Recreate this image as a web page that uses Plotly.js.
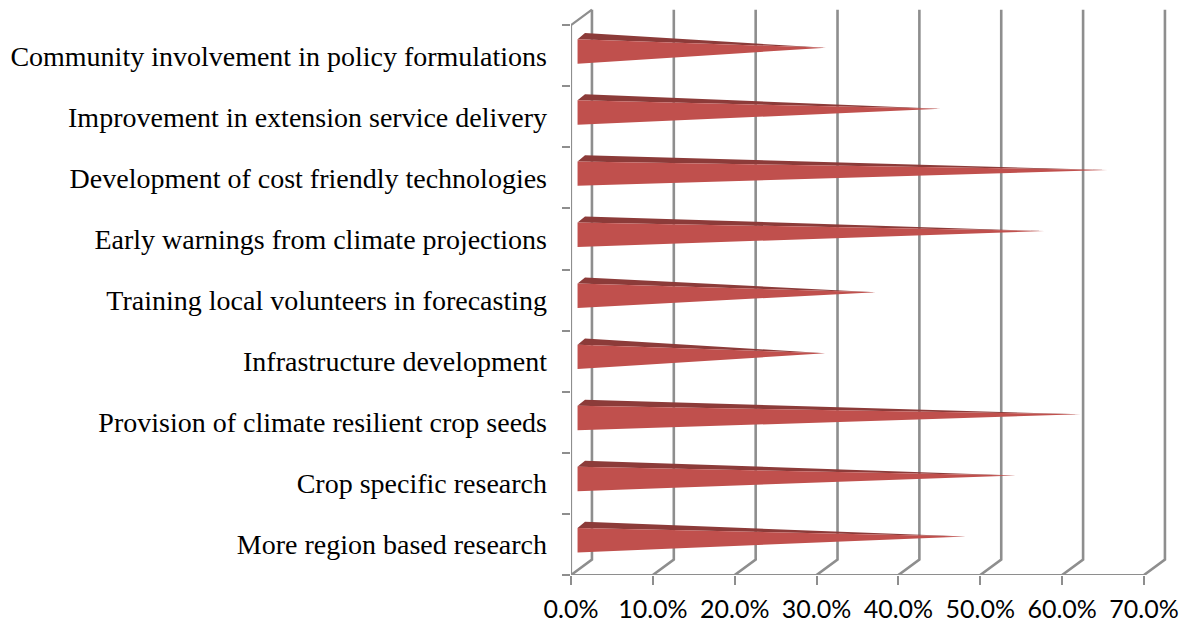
<!DOCTYPE html>
<html><head><meta charset="utf-8">
<script src="https://cdn.plot.ly/plotly-3.0.1.min.js"></script>
<style>html,body{margin:0;padding:0;background:#fff}</style></head>
<body><div id="chart" style="width:1187px;height:624px"></div>
<script>
// Bottom-to-top, as on the category axis
const categories = [
  "More region based research",
  "Crop specific research",
  "Provision of climate resilient crop seeds",
  "Infrastructure development",
  "Training local volunteers in forecasting",
  "Early warnings from climate projections",
  "Development of cost friendly technologies",
  "Improvement in extension service delivery",
  "Community involvement in policy formulations"
];
const values = [46.7, 52.8, 60.7, 29.5, 35.7, 56.3, 64.0, 43.6, 29.6];
const valueTicks = [0, 10, 20, 30, 40, 50, 60, 70];
const valueLabels = ["0.0%", "10.0%", "20.0%", "30.0%", "40.0%", "50.0%", "60.0%", "70.0%"];

const depthX = 2.56, depthY = 0.254;   // oblique projection of the chart depth, axis units
const gridColor = "#8e8e8e";
const front = {x: [], y: []}, top_ = {x: [], y: []};
values.forEach((v, i) => {
  const c = i + 0.5, tipX = v + 1.55, tipY = c + 0.13;
  front.x.push(0.8, 0.8, tipX, null);
  front.y.push(c - 0.13, c + 0.27, tipY, null);
  top_.x.push(0.8, 1.71, tipX, null);
  top_.y.push(c + 0.27, c + 0.37, tipY, null);
});
const n = categories.length;
const gx = [], gy = [];
valueTicks.forEach(t => {
  gx.push(t, t + depthX, t + depthX, null);
  gy.push(0, depthY, n + depthY, null);
});
const line = (x, y, w) => ({type: "scatter", mode: "lines", x, y, hoverinfo: "skip", showlegend: false,
  cliponaxis: false, line: {color: gridColor, width: w}});
const fill = (d, color) => ({type: "scatter", mode: "lines", x: d.x, y: d.y, fill: "toself", fillcolor: color,
  hoverinfo: "skip", showlegend: false, line: {width: 0, color: color}});
const traces = [
  line(gx, gy, 2.6),
  line([0, 0, depthX], [0, n, n + depthY], 2.2),
  line([0, 70], [0, 0], 2.2),
  fill(top_, "#8c3b39"),
  fill(front, "#c0504d")
];
const layout = {
  width: 1187, height: 624,
  margin: {l: 571, r: 15.7, t: 5.3, b: 48.5, pad: 0},
  paper_bgcolor: "#fff", plot_bgcolor: "#fff", showlegend: false,
  xaxis: {range: [0, 73.3], tickmode: "array", tickvals: valueTicks, ticktext: valueLabels,
    ticks: "outside", ticklen: 9, tickwidth: 2, tickcolor: gridColor, showgrid: false, zeroline: false,
    showline: false, ticklabelstandoff: 3, tickfont: {family: "Lato", size: 25, color: "#000"}, fixedrange: true},
  yaxis: {range: [0, 9.33], tickmode: "array", tickvals: categories.map((_, i) => i + 0.5), ticktext: categories,
    ticks: "", ticklabelstandoff: 23, showgrid: false, zeroline: false, showline: false,
    minor: {tickmode: "array", tickvals: categories.map((_, i) => i).concat([n]), ticks: "outside", ticklen: 8,
      tickwidth: 2, tickcolor: gridColor, showgrid: false},
    tickfont: {family: "Liberation Serif", size: 28, color: "#000"}, fixedrange: true}
};
Plotly.newPlot("chart", traces, layout, {displayModeBar: false, staticPlot: true});
</script></body></html>
